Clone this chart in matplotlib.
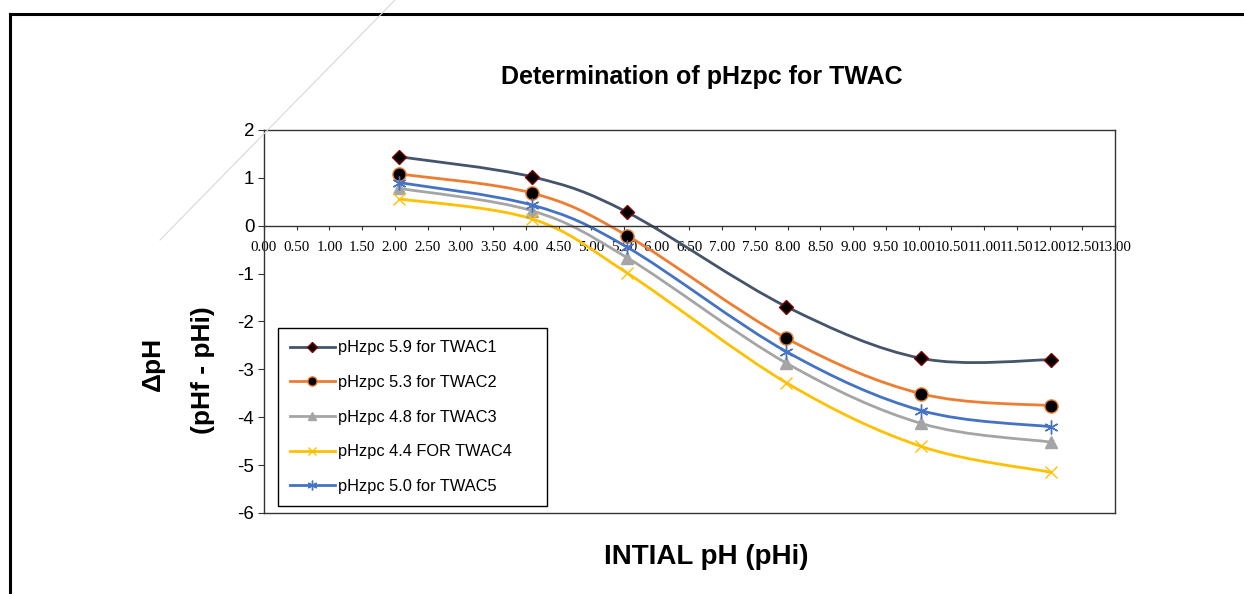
import matplotlib
matplotlib.use("Agg")
import matplotlib.pyplot as plt
from matplotlib.path import Path
from matplotlib.patches import PathPatch
from matplotlib.lines import Line2D
import numpy as np

# initial pH for every sample
initial_ph = [2.07, 4.10, 5.55, 7.98, 10.04, 12.02]

# change in pH (pHf - pHi)
twac1 = [1.44, 1.02, 0.28, -1.69, -2.77, -2.80]
twac2 = [1.08, 0.68, -0.21, -2.35, -3.51, -3.76]
twac3 = [0.78, 0.31, -0.67, -2.87, -4.13, -4.52]
twac4 = [0.56, 0.14, -0.99, -3.28, -4.61, -5.15]
twac5 = [0.90, 0.43, -0.45, -2.63, -3.86, -4.20]

labels = ["pHzpc 5.9 for TWAC1", "pHzpc 5.3 for TWAC2", "pHzpc 4.8 for TWAC3",
          "pHzpc 4.4 FOR TWAC4", "pHzpc 5.0 for TWAC5"]

plt.rcParams['font.family'] = ['Liberation Sans', 'DejaVu Sans']
plt.rcParams['axes.unicode_minus'] = False


def smooth_path(xs, ys):
    # excel-like smoothed line: catmull-rom turned into cubic bezier segments
    pts = np.column_stack([xs, ys])
    verts = [pts[0]]
    codes = [Path.MOVETO]
    n = len(pts)
    for i in range(n - 1):
        p0 = pts[i - 1] if i > 0 else pts[i]
        p1 = pts[i]
        p2 = pts[i + 1]
        p3 = pts[i + 2] if i + 2 < n else pts[i + 1]
        c1 = p1 + (p2 - p0) / 6.0
        c2 = p2 - (p3 - p1) / 6.0
        verts += [c1, c2, p2]
        codes += [Path.CURVE4] * 3
    return Path(verts, codes)


fig = plt.figure(figsize=(12.44, 5.94), dpi=100)
ax = fig.add_axes([0.2122, 0.1364, 0.6841, 0.6448])

styles = [
    dict(color="#44546A", marker="D", ms=7, mfc="black", mec="#800000"),
    dict(color="#ED7D31", marker="o", ms=9.5, mfc="black", mec="#ED7D31"),
    dict(color="#A5A5A5", marker="^", ms=8, mfc="#A5A5A5", mec="#A5A5A5"),
    dict(color="#FFC000", marker="x", ms=8, mfc="#FFC000", mec="#FFC000"),
    dict(color="#4472C4", marker=(6, 2, 0), ms=10, mfc="#4472C4", mec="#4472C4"),
]
series = [twac1, twac2, twac3, twac4, twac5]

handles = []
for ys, st in zip(series, styles):
    ax.add_patch(PathPatch(smooth_path(initial_ph, ys), fill=False,
                           edgecolor=st["color"], lw=2.0, zorder=2))
    ax.plot(initial_ph, ys, linestyle="none", marker=st["marker"], ms=st["ms"],
            mfc=st["mfc"], mec=st["mec"], mew=1.0, zorder=3)
    handles.append(Line2D([], [], color=st["color"], lw=2.0, marker=st["marker"],
                          ms=st["ms"] * 0.7, mfc=st["mfc"], mec=st["mec"], mew=1.0))

ax.set_xlim(0, 13)
ax.set_ylim(-6, 2)

# x axis crosses at zero
ax.spines['bottom'].set_position(('data', 0))
for s in ['top', 'right', 'left', 'bottom']:
    ax.spines[s].set_color("#333333")
    ax.spines[s].set_linewidth(1.0)
ax.axhline(-6, color="#333333", lw=1.0, clip_on=False)

xt = np.arange(0, 13.01, 0.5)
ax.set_xticks(xt)
ax.set_xticklabels(["%.2f" % v for v in xt], fontfamily="Liberation Serif", fontsize=10.8)
ax.tick_params(axis='x', direction='out', length=3, pad=8, color="#333333")
ax.set_yticks(range(-6, 3))
ax.tick_params(axis='y', direction='out', length=4, pad=3, labelsize=13.5, color="#333333")

leg = ax.legend(handles, labels, loc="upper left",
                bbox_to_anchor=(0.0165, 0.0, 0.316, 0.483), mode="expand",
                borderaxespad=0, fancybox=False, edgecolor="black", fontsize=11.8,
                labelspacing=1.2, handlelength=2.7, handletextpad=0.2,
                borderpad=0.75, framealpha=1)
leg.get_frame().set_linewidth(1.0)

fig.text(0.564, 0.870, "Determination of pHzpc for TWAC", ha="center", va="center",
         fontsize=18, fontweight="bold")
fig.text(0.568, 0.062, "INTIAL pH (pHi)", ha="center", va="center",
         fontsize=20, fontweight="bold")
fig.text(0.123, 0.387, "\u0394pH", ha="center", va="center", rotation=90,
         fontsize=19, fontweight="bold")
fig.text(0.163, 0.377, "(pHf - pHi)", ha="center", va="center", rotation=90,
         fontsize=19, fontweight="bold")

# outer frame of the chart and the faint stray line of the screenshot
fig.add_artist(Line2D([10 / 1244, 10 / 1244], [0, 1 - 14 / 594], color="black", lw=2.2))
fig.add_artist(Line2D([10 / 1244, 1], [1 - 14 / 594, 1 - 14 / 594], color="black", lw=2.2))
fig.add_artist(Line2D([395 / 1244, 160 / 1244], [1, 1 - 240 / 594], color="#d8d8d8", lw=0.8))

fig.savefig("out.png", dpi=100)
